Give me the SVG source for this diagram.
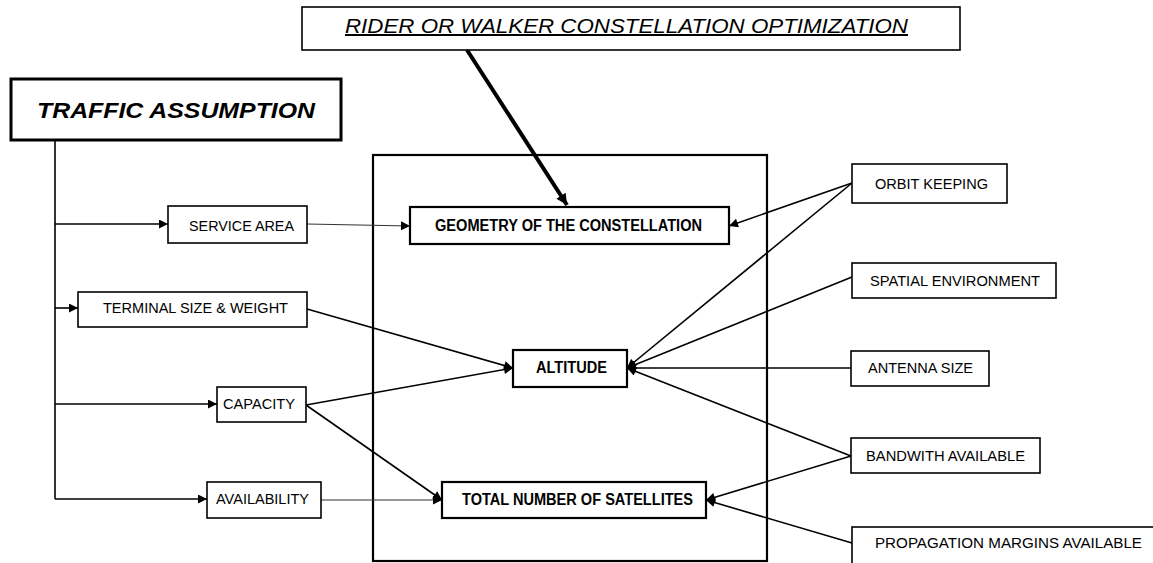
<svg xmlns="http://www.w3.org/2000/svg" width="1153" height="563" viewBox="0 0 1153 563">
<style>
.box{fill:#fff;stroke:#000;stroke-width:1.6}
.cbox{fill:#fff;stroke:#000;stroke-width:2.2}
.t{font-family:"Liberation Sans",Arial,sans-serif;font-size:15px;fill:#000}
.b{font-family:"Liberation Sans",Arial,sans-serif;font-size:16px;font-weight:bold;fill:#000}
.ln{stroke:#000;stroke-width:1.6;fill:none}
.lt{stroke:#333;stroke-width:1.1;fill:none}
</style>
<defs>
<marker id="ah" viewBox="0 0 10 10" refX="10" refY="5" markerWidth="10" markerHeight="9" markerUnits="userSpaceOnUse" orient="auto">
<path d="M0,0 L10,5 L0,10 z" fill="#000"/>
</marker>
<marker id="ahb" viewBox="0 0 10 10" refX="10" refY="5" markerWidth="12" markerHeight="11" markerUnits="userSpaceOnUse" orient="auto">
<path d="M0,0 L10,5 L0,10 z" fill="#000"/>
</marker>
</defs>

<rect x="373" y="155" width="394" height="406" fill="none" stroke="#000" stroke-width="2.2"/>

<g id="connectors">
<line x1="467" y1="50" x2="567" y2="205" stroke="#000" stroke-width="4" marker-end="url(#ahb)"/>
<path class="ln" d="M55,140 V499"/>
<line class="ln" x1="55" y1="224" x2="168" y2="224" marker-end="url(#ah)"/>
<line class="ln" x1="55" y1="308" x2="78" y2="308" marker-end="url(#ah)"/>
<line class="ln" x1="55" y1="404" x2="217" y2="404" marker-end="url(#ah)"/>
<line class="ln" x1="55" y1="499" x2="207" y2="499" marker-end="url(#ah)"/>
<line class="lt" x1="307" y1="224" x2="410" y2="226" marker-end="url(#ah)"/>
<line class="lt" x1="321" y1="500" x2="442" y2="500" marker-end="url(#ah)"/>
<line class="ln" x1="307" y1="309" x2="513" y2="368" marker-end="url(#ah)"/>
<line class="ln" x1="306" y1="405" x2="513" y2="368" marker-end="url(#ah)"/>
<line class="ln" x1="306" y1="405" x2="442" y2="500" marker-end="url(#ah)"/>
<line class="ln" x1="852" y1="183" x2="729" y2="226" marker-end="url(#ah)"/>
<line class="ln" x1="852" y1="183" x2="627" y2="368" marker-end="url(#ah)"/>
<line class="ln" x1="852" y1="277" x2="627" y2="368" marker-end="url(#ah)"/>
<line class="ln" x1="851" y1="368" x2="627" y2="368" marker-end="url(#ah)"/>
<line class="ln" x1="851" y1="456" x2="627" y2="368" marker-end="url(#ah)"/>
<line class="ln" x1="851" y1="456" x2="706" y2="500" marker-end="url(#ah)"/>
<line class="ln" x1="852" y1="543" x2="706" y2="500" marker-end="url(#ah)"/>
</g>

<g id="title">
<rect class="box" x="302" y="7" width="658" height="43"/>
<text x="345" y="33" font-family="'Liberation Sans',Arial,sans-serif" font-size="20" font-style="italic" text-decoration="underline" textLength="563" lengthAdjust="spacingAndGlyphs">RIDER OR WALKER CONSTELLATION OPTIMIZATION</text>
</g>

<g id="traffic">
<rect x="11" y="79" width="330" height="61" fill="#fff" stroke="#000" stroke-width="3"/>
<text x="37" y="118" font-family="'Liberation Sans',Arial,sans-serif" font-size="22" font-weight="bold" font-style="italic" textLength="278" lengthAdjust="spacingAndGlyphs">TRAFFIC ASSUMPTION</text>
</g>

<g id="service">
<rect class="box" x="168" y="206" width="139" height="37"/>
<text class="t" x="189" y="231" textLength="105" lengthAdjust="spacingAndGlyphs">SERVICE AREA</text>
</g>
<g id="terminal">
<rect class="box" x="78" y="292" width="229" height="35"/>
<text class="t" x="103" y="313" textLength="185" lengthAdjust="spacingAndGlyphs">TERMINAL SIZE &amp; WEIGHT</text>
</g>
<g id="capacity">
<rect class="box" x="217" y="387" width="89" height="35"/>
<text class="t" x="223" y="409" textLength="72" lengthAdjust="spacingAndGlyphs">CAPACITY</text>
</g>
<g id="availability">
<rect class="box" x="207" y="482" width="114" height="36"/>
<text class="t" x="216" y="504" textLength="93" lengthAdjust="spacingAndGlyphs">AVAILABILITY</text>
</g>

<g id="geometry">
<rect class="cbox" x="410" y="207" width="319" height="37"/>
<text class="b" x="435" y="231" textLength="267" lengthAdjust="spacingAndGlyphs">GEOMETRY OF THE CONSTELLATION</text>
</g>
<g id="altitude">
<rect class="cbox" x="513" y="350" width="114" height="37"/>
<text class="b" x="536" y="373" textLength="71" lengthAdjust="spacingAndGlyphs">ALTITUDE</text>
</g>
<g id="total">
<rect class="cbox" x="442" y="482" width="264" height="36"/>
<text class="b" x="462" y="505" textLength="231" lengthAdjust="spacingAndGlyphs">TOTAL NUMBER OF SATELLITES</text>
</g>

<g id="orbit">
<rect class="box" x="852" y="164" width="155" height="39"/>
<text class="t" x="875" y="189" textLength="113" lengthAdjust="spacingAndGlyphs">ORBIT KEEPING</text>
</g>
<g id="spatial">
<rect class="box" x="852" y="263" width="204" height="35"/>
<text class="t" x="870" y="286" textLength="170" lengthAdjust="spacingAndGlyphs">SPATIAL ENVIRONMENT</text>
</g>
<g id="antenna">
<rect class="box" x="851" y="351" width="138" height="35"/>
<text class="t" x="868" y="373" textLength="105" lengthAdjust="spacingAndGlyphs">ANTENNA SIZE</text>
</g>
<g id="bandwith">
<rect class="box" x="851" y="438" width="189" height="35"/>
<text class="t" x="866" y="461" textLength="159" lengthAdjust="spacingAndGlyphs">BANDWITH AVAILABLE</text>
</g>
<g id="propagation">
<rect class="box" x="852" y="527" width="310" height="40"/>
<text class="t" x="875" y="548" textLength="267" lengthAdjust="spacingAndGlyphs">PROPAGATION MARGINS AVAILABLE</text>
</g>
</svg>
